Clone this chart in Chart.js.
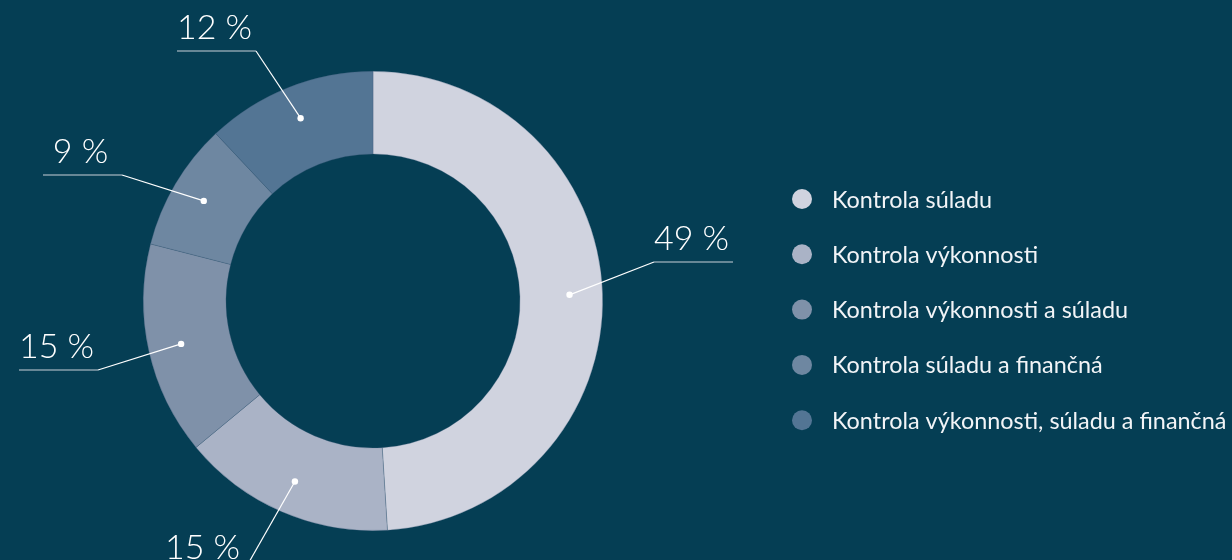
<!DOCTYPE html>
<html>
<head>
<meta charset="utf-8">
<script src="https://cdn.jsdelivr.net/npm/chart.js@4.4.1/dist/chart.umd.min.js"></script>
<style>
  html, body { margin: 0; padding: 0; background: #053e54; }
  #wrap { width: 1232px; height: 560px; position: relative; }
</style>
</head>
<body>
<div id="wrap"><canvas id="chart" width="1232" height="560"></canvas></div>
<script>
// data, clockwise from 12 o'clock
const LABELS = [
  'Kontrola súladu',
  'Kontrola výkonnosti',
  'Kontrola výkonnosti a súladu',
  'Kontrola súladu a finančná',
  'Kontrola výkonnosti, súladu a finančná'
];
const SHARES = [49, 15, 15, 9, 12];
const COLORS = ['#d0d3df', '#aab3c6', '#7f91a9', '#6e87a1', '#537594'];

// leader-line elbows, relative to doughnut centre; dir = which way the underline runs
const CALLOUTS = [
  { ex: 281, ey: -39, dir: 1 },
  { ex: -129, ey: 270, dir: -1 },
  { ex: -275, ey: 69, dir: -1 },
  { ex: -251, ey: -126, dir: -1 },
  { ex: -117, ey: -250, dir: -1 }
];
const UNDERLINE = 79;

const calloutPlugin = {
  id: 'callouts',
  afterDatasetsDraw(chart) {
    const ctx = chart.ctx;
    const meta = chart.getDatasetMeta(0);
    ctx.save();
    meta.data.forEach((arc, i) => {
      const p = arc.getProps(['x', 'y', 'startAngle', 'endAngle', 'innerRadius', 'outerRadius'], true);
      const mid = (p.startAngle + p.endAngle) / 2;
      const r = p.innerRadius + 0.6 * (p.outerRadius - p.innerRadius);
      const dx = p.x + Math.cos(mid) * r, dy = p.y + Math.sin(mid) * r;
      const c = CALLOUTS[i];
      const ex = p.x + c.ex, ey = p.y + c.ey;
      const fx = ex + c.dir * UNDERLINE;
      ctx.strokeStyle = '#ffffff';
      ctx.lineWidth = 1.2;
      ctx.beginPath();
      ctx.moveTo(dx, dy);
      ctx.lineTo(ex, ey);
      ctx.stroke();
      ctx.strokeStyle = '#c9d0d8';
      ctx.beginPath();
      ctx.moveTo(ex, ey);
      ctx.lineTo(fx, ey);
      ctx.stroke();
      ctx.fillStyle = '#ffffff';
      ctx.beginPath();
      ctx.arc(dx, dy, 3.2, 0, Math.PI * 2);
      ctx.fill();
      ctx.font = '300 34px Lato, "Open Sans", sans-serif';
      ctx.textAlign = 'center';
      ctx.textBaseline = 'alphabetic';
      ctx.fillText(SHARES[i] + ' %', (ex + fx) / 2 - 2, ey - 12);
    });
    ctx.restore();
  }
};

const legendPlugin = {
  id: 'sideLegend',
  afterDraw(chart) {
    const ctx = chart.ctx;
    ctx.save();
    ctx.font = '400 23.4px Lato, "Open Sans", sans-serif';
    ctx.textAlign = 'left';
    ctx.textBaseline = 'middle';
    chart.data.labels.forEach((lab, i) => {
      const y = 199 + i * 55.3;
      ctx.fillStyle = chart.data.datasets[0].backgroundColor[i];
      ctx.beginPath();
      ctx.arc(802, y, 10, 0, Math.PI * 2);
      ctx.fill();
      ctx.fillStyle = '#f2f4f7';
      ctx.fillText(lab, 832, y + 1);
    });
    ctx.restore();
  }
};

new Chart(document.getElementById('chart'), {
  type: 'doughnut',
  data: {
    labels: LABELS,
    datasets: [{
      data: SHARES,
      backgroundColor: COLORS,
      borderWidth: 0.6,
      borderColor: 'rgba(60,90,120,0.5)'
    }]
  },
  options: {
    responsive: false,
    animation: false,
    cutout: '64%',
    layout: { padding: { left: 143, right: 629, top: 71, bottom: 29 } },
    plugins: {
      legend: { display: false },
      tooltip: { enabled: false }
    }
  },
  plugins: [calloutPlugin, legendPlugin]
});
</script>
</body>
</html>
